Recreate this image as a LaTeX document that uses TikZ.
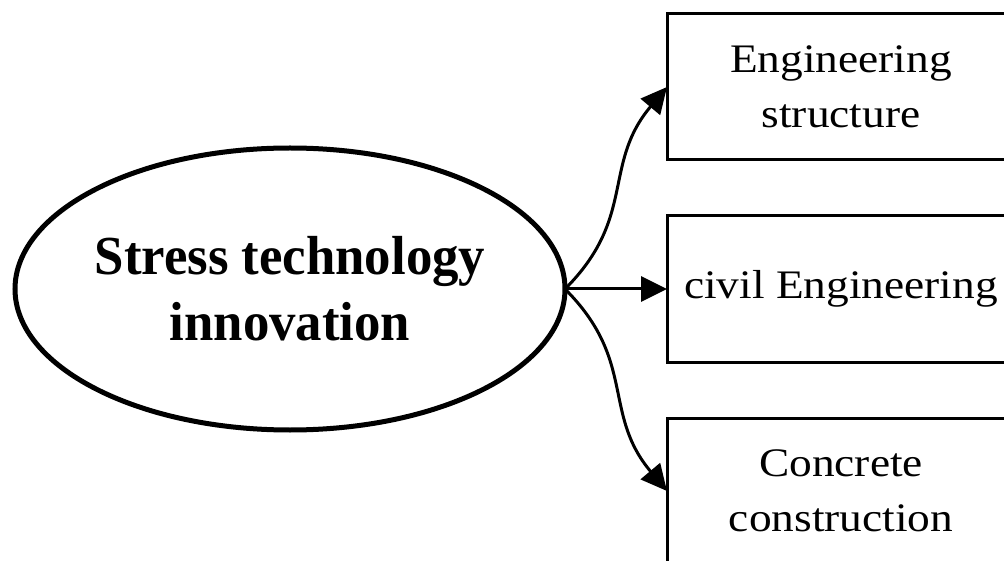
\documentclass[tikz,border=0pt]{standalone}
\usepackage{fontspec}
\setmainfont{Liberation Serif}
\newfontfamily\boxfont[FakeStretch=1.12]{Liberation Serif}
\newfontfamily\hubfont[FakeStretch=0.96]{Liberation Serif}
\usetikzlibrary{arrows.meta}
\usetikzlibrary{positioning}
\usetikzlibrary{shapes.geometric}

\begin{document}
\begin{tikzpicture}[x=1pt, y=1pt,
    >={Triangle[length=26pt, width=25pt]},
    hub/.style={draw, ellipse, line width=5pt, outer sep=0pt, inner xsep=-5pt,
        minimum width=550pt, minimum height=282pt, align=center,
        font=\hubfont\fontsize{55}{66}\selectfont\bfseries},
    field/.style={draw, rectangle, line width=3pt, outer sep=0pt,
        minimum width=348pt, minimum height=146pt, align=center,
        font=\boxfont\fontsize{40.5}{55}\selectfont},
    link/.style={->, line width=3pt}]

    \useasboundingbox (0,0) rectangle (1004,-561);
    \clip (0,0) rectangle (1004,-561);

    % Nodes

    \node[hub]                        (hub)   at (290,-289) {Stress technology\\innovation};
    \node[field, right=102pt of hub]  (civil) {civil Engineering};
    \node[field, above=56pt of civil] (eng)   {Engineering\\structure};
    \node[field, below=56pt of civil] (conc)  {Concrete\\construction};

    % Links
    \draw[link] (hub.east) to[out=45, in=230, looseness=1.15] (eng.west);
    \draw[link] (hub.east) -- (civil.west);
    \draw[link] (hub.east) to[out=-45, in=130, looseness=1.15] (conc.west);

\end{tikzpicture}
\end{document}
